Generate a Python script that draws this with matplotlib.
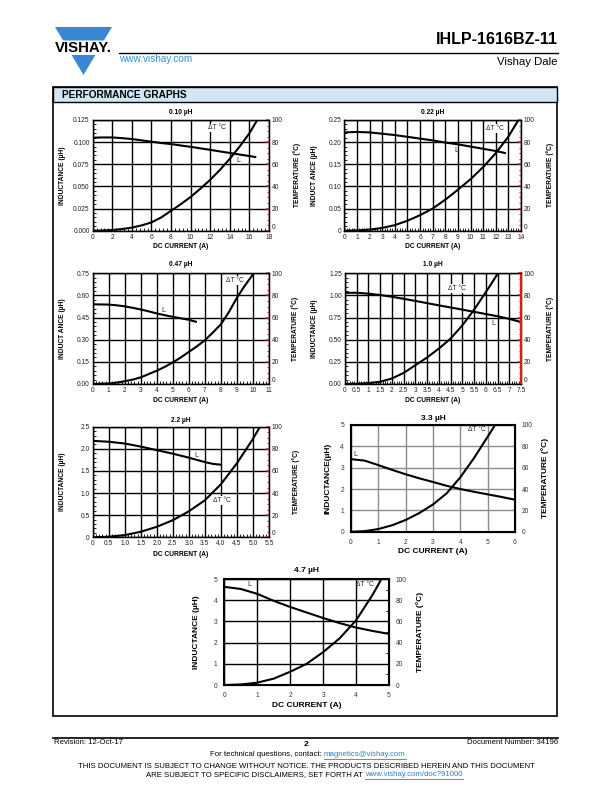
import matplotlib
matplotlib.use("Agg")
import matplotlib.pyplot as plt
from matplotlib import font_manager
from matplotlib.transforms import Affine2D
from matplotlib.patches import Rectangle, Polygon
from matplotlib.lines import Line2D
from matplotlib.ticker import AutoMinorLocator

# ---------------- data ----------------
T_TICKS = [0, 20, 40, 60, 80, 100]
T_LABELS = ["0", "20", "40", "60", "80", "100"]

# 0.10 uH
TITLE_1 = "0.10 µH"
X1_TICKS = [0, 2, 4, 6, 8, 10, 12, 14, 16, 18]
X1_LABELS = ["0", "2", "4", "6", "8", "10", "12", "14", "16", "18"]
Y1_TICKS = [0, 0.025, 0.05, 0.075, 0.1, 0.125]
Y1_LABELS = ["0.000", "0.025", "0.050", "0.075", "0.100", "0.125"]
L1_X = [0, 1, 2, 3, 4, 5, 6, 7, 8, 9, 10, 11, 12, 13, 14, 15, 16, 16.7]
L1_Y = [0.105, 0.1053, 0.1053, 0.1045, 0.1035, 0.102, 0.1005, 0.099, 0.0978, 0.0962,
        0.0947, 0.093, 0.0913, 0.0895, 0.0878, 0.086, 0.0843, 0.083]
T1_X = [0, 1, 2, 3, 4, 5, 6, 7, 8, 9, 10, 11, 12, 13, 14, 15, 16, 16.8]
T1_Y = [0, 0.2, 0.6, 1.5, 2.8, 4.8, 7.5, 12, 18, 24, 30.5, 38, 46, 55, 65, 76, 88, 100]

# 0.22 uH
TITLE_2 = "0.22 µH"
X2_TICKS = list(range(0, 15))
X2_LABELS = [str(v) for v in range(0, 15)]
Y2_TICKS = [0, 0.05, 0.10, 0.15, 0.20, 0.25]
Y2_LABELS = ["0", "0.05", "0.10", "0.15", "0.20", "0.25"]
L2_X = [0, 1, 2, 3, 4, 5, 6, 7, 8, 9, 10, 11, 12, 12.8]
L2_Y = [0.222, 0.223, 0.222, 0.219, 0.216, 0.212, 0.208, 0.204, 0.199, 0.195, 0.190,
        0.185, 0.180, 0.175]
T2_X = [0, 1, 2, 3, 4, 5, 6, 7, 8, 9, 10, 11, 12, 13, 13.8]
T2_Y = [0, 0.3, 1, 2.5, 5, 9, 14, 20, 28, 37, 46.5, 57.5, 70, 85, 100]

# 0.47 uH
TITLE_3 = "0.47 µH"
X3_TICKS = list(range(0, 12))
X3_LABELS = [str(v) for v in range(0, 12)]
Y3_TICKS = [0, 0.15, 0.30, 0.45, 0.60, 0.75]
Y3_LABELS = ["0.00", "0.15", "0.30", "0.45", "0.60", "0.75"]
L3_X = [0, 1, 1.5, 2, 2.5, 3, 3.5, 4, 4.5, 5, 5.5, 6, 6.5]
L3_Y = [0.540, 0.538, 0.533, 0.526, 0.516, 0.505, 0.492, 0.478, 0.466, 0.455, 0.445,
        0.435, 0.420]
T3_X = [0, 1, 1.5, 2, 2.5, 3, 3.5, 4, 4.5, 5, 5.5, 6, 6.5, 7, 7.5, 8, 8.5, 9, 9.5, 10.05]
T3_Y = [0, 0.5, 1.3, 2.5, 4, 6, 9, 12, 15.5, 19.5, 24, 29, 34, 39.5, 46.5, 54, 65, 78,
        89, 100]

# 1.0 uH
TITLE_4 = "1.0 µH"
X4_TICKS = [0, 0.5, 1, 1.5, 2, 2.5, 3, 3.5, 4, 4.5, 5, 5.5, 6, 6.5, 7, 7.5]
X4_LABELS = ["0", "0.5", "1", "1.5", "2", "2.5", "3", "3.5", "4", "4.5", "5", "5.5",
             "6", "6.5", "7", "7.5"]
Y4_TICKS = [0, 0.25, 0.50, 0.75, 1.00, 1.25]
Y4_LABELS = ["0.00", "0.25", "0.50", "0.75", "1.00", "1.25"]
L4_X = [0, 0.5, 1, 1.5, 2, 2.5, 3, 3.5, 4, 4.5, 5, 5.5, 6, 6.5, 7, 7.5]
L4_Y = [1.03, 1.03, 1.02, 1.005, 0.985, 0.962, 0.938, 0.913, 0.888, 0.864, 0.84, 0.815,
        0.79, 0.765, 0.735, 0.70]
T4_X = [0, 0.5, 1, 1.5, 2, 2.5, 3, 3.5, 4, 4.5, 5, 5.5, 6, 6.25, 6.5]
T4_Y = [0, 0.2, 0.8, 2, 5, 10, 17, 24, 32, 41, 53, 67, 83, 91, 99.5]

# 2.2 uH
TITLE_5 = "2.2 µH"
X5_TICKS = [0, 0.5, 1, 1.5, 2, 2.5, 3, 3.5, 4, 4.5, 5, 5.5]
X5_LABELS = ["0", "0.5", "1.0", "1.5", "2.0", "2.5", "3.0", "3.5", "4.0", "4.5", "5.0",
             "5.5"]
Y5_TICKS = [0, 0.5, 1.0, 1.5, 2.0, 2.5]
Y5_LABELS = ["0", "0.5", "1.0", "1.5", "2.0", "2.5"]
L5_X = [0, 0.5, 1, 1.5, 2, 2.5, 3, 3.5, 3.75, 4]
L5_Y = [2.18, 2.16, 2.12, 2.05, 1.97, 1.89, 1.80, 1.70, 1.66, 1.64]
T5_X = [0, 0.5, 1, 1.5, 2, 2.5, 3, 3.5, 4, 4.5, 5, 5.22]
T5_Y = [0, 0.5, 2, 5, 9.5, 15.5, 23.5, 33.5, 48, 67, 89, 100]

# 3.3 uH
TITLE_6 = "3.3 µH"
X6_TICKS = [0, 1, 2, 3, 4, 5, 6]
X6_LABELS = ["0", "1", "2", "3", "4", "5", "6"]
Y6_TICKS = [0, 1, 2, 3, 4, 5]
Y6_LABELS = ["0", "1", "2", "3", "4", "5"]
L6_X = [0, 0.5, 1, 1.5, 2, 2.5, 3, 3.5, 4, 4.5, 5, 5.5, 6]
L6_Y = [3.4, 3.33, 3.12, 2.9, 2.69, 2.5, 2.33, 2.15, 2.0, 1.87, 1.75, 1.63, 1.5]
T6_X = [0, 0.5, 1, 1.5, 2, 2.5, 3, 3.5, 4, 4.5, 5, 5.27]
T6_Y = [0, 0.5, 2.5, 6, 11, 17.5, 25.5, 36, 51, 69, 89, 100]

# 4.7 uH
TITLE_7 = "4.7 µH"
X7_TICKS = [0, 1, 2, 3, 4, 5]
X7_LABELS = ["0", "1", "2", "3", "4", "5"]
Y7_TICKS = [0, 1, 2, 3, 4, 5]
Y7_LABELS = ["0", "1", "2", "3", "4", "5"]
L7_X = [0, 0.5, 1, 1.5, 2, 2.5, 3, 3.5, 4, 4.5, 5]
L7_Y = [4.63, 4.53, 4.3, 3.97, 3.68, 3.42, 3.16, 2.92, 2.71, 2.55, 2.41]
T7_X = [0, 0.5, 1, 1.5, 2, 2.5, 3, 3.5, 4, 4.5, 4.77]
T7_Y = [0, 0.5, 2.2, 6, 12.5, 20, 31, 44, 61, 85, 100]

# ---------------- fonts ----------------
_names = {f.name for f in font_manager.fontManager.ttflist}
SANS = "Liberation Sans" if "Liberation Sans" in _names else "DejaVu Sans"
HAS_NARROW = "Liberation Sans Narrow" in _names
NARROW = "Liberation Sans Narrow" if HAS_NARROW else SANS
plt.rcParams["font.family"] = [SANS, "DejaVu Sans"]
LAB_FS_A = 5.6 if HAS_NARROW else 4.8

W, H = 612, 792
fig = plt.figure(figsize=(W / 100, H / 100), dpi=100)
PIX = Affine2D().scale(1.0 / W, -1.0 / H).translate(0, 1) + fig.transFigure


def ftext(x, y, s, **kw):
    return fig.text(x, y, s, transform=PIX, **kw)


def add_axes_px(x0, y0, x1, y1):
    return fig.add_axes([x0 / W, 1 - y1 / H, (x1 - x0) / W, (y1 - y0) / H])


CHARTS = [
    dict(title=TITLE_1, box=(92.7, 120, 269, 230.7), xt=X1_TICKS, xl=X1_LABELS, yt=Y1_TICKS,
         yl=Y1_LABELS, L=(L1_X, L1_Y), T=(T1_X, T1_Y), style="a", labx=(63, 297),
         title_y=112.7, xlab_y=246, dT=(12.7, 0.116), Lp=(14.9, 0.0798),
         ylab="INDUCTANCE (µH)", ylab2="TEMPERATURE (°C)"),
    dict(title=TITLE_2, box=(344.3, 120, 521, 230.7), xt=X2_TICKS, xl=X2_LABELS, yt=Y2_TICKS,
         yl=Y2_LABELS, L=(L2_X, L2_Y), T=(T2_X, T2_Y), style="a", labx=(314, 550),
         title_y=112.7, xlab_y=246.7, dT=(11.9, 0.231), Lp=(8.9, 0.18),
         ylab="INDUCT ANCE (µH)", ylab2="TEMPERATURE (°C)"),
    dict(title=TITLE_3, box=(92.7, 273.3, 269, 384), xt=X3_TICKS, xl=X3_LABELS, yt=Y3_TICKS,
         yl=Y3_LABELS, L=(L3_X, L3_Y), T=(T3_X, T3_Y), style="a", labx=(63, 295),
         title_y=265, xlab_y=400.7, dT=(8.9, 0.70), Lp=(4.4, 0.495),
         ylab="INDUCT ANCE (µH)", ylab2="TEMPERATURE (°C)"),
    dict(title=TITLE_4, box=(345, 273.3, 521, 384), xt=X4_TICKS, xl=X4_LABELS, yt=Y4_TICKS,
         yl=Y4_LABELS, L=(L4_X, L4_Y), T=(T4_X, T4_Y), style="a", labx=(315, 550),
         title_y=265, xlab_y=400.7, dT=(4.76, 1.08), Lp=(6.32, 0.685),
         ylab="INDUCTANCE (µH)", ylab2="TEMPERATURE (°C)", red_spine=True),
    dict(title=TITLE_5, box=(92.7, 426.7, 269, 537.3), xt=X5_TICKS, xl=X5_LABELS, yt=Y5_TICKS,
         yl=Y5_LABELS, L=(L5_X, L5_Y), T=(T5_X, T5_Y), style="a", labx=(63, 296),
         title_y=420, xlab_y=554, dT=(4.02, 0.83), Lp=(3.24, 1.84),
         ylab="INDUCTANCE (µH)", ylab2="TEMPERATURE (°C)"),
    dict(title=TITLE_6, box=(351, 425, 515, 531.7), xt=X6_TICKS, xl=X6_LABELS, yt=Y6_TICKS,
         yl=Y6_LABELS, L=(L6_X, L6_Y), T=(T6_X, T6_Y), style="b", labx=(328, 545),
         title_y=419, xlab_y=551.7, dT=(4.6, 4.81), Lp=(0.15, 3.6),
         ylab="INDUCTANCE(µH)", ylab2="TEMPERATURE (°C)", gridc="#8c8c8c"),
    dict(title=TITLE_7, box=(224.3, 579, 389, 685), xt=X7_TICKS, xl=X7_LABELS, yt=Y7_TICKS,
         yl=Y7_LABELS, L=(L7_X, L7_Y), T=(T7_X, T7_Y), style="b", labx=(196, 420),
         title_y=571, xlab_y=705.7, dT=(4.27, 4.76), Lp=(0.76, 4.76),
         ylab="INDUCTANCE (µH)", ylab2="TEMPERATURE (°C)", gridc="black", rminor=True),
]

# ---------------- page furniture ----------------
LOGO_BLUE = "#3a88d3"
fig.add_artist(Polygon([(55, 27), (112, 27), (103.9, 40.5), (63.1, 40.5)], closed=True,
                       transform=PIX, facecolor=LOGO_BLUE, edgecolor="none"))
fig.add_artist(Polygon([(71.6, 55), (95.4, 55), (83.5, 75)], closed=True,
                       transform=PIX, facecolor=LOGO_BLUE, edgecolor="none"))
ftext(83, 48, "VISHAY.", ha="center", va="center", fontsize=10.8, weight="bold")
fig.add_artist(Line2D([119, 558], [52.5, 52.5], transform=PIX, color="black", lw=1.0))
ftext(119, 58.5, "www.vishay.com", ha="left", va="center", fontsize=7.2, color="#3a8fd4")
ftext(557.5, 40, "IHLP-1616BZ-11", ha="right", va="center", fontsize=11.5, weight="bold")
ftext(557.5, 62, "Vishay Dale", ha="right", va="center", fontsize=8.2)

fig.add_artist(Rectangle((53, 87), 504, 629, transform=PIX, fill=False, edgecolor="black",
                         lw=1.2))
fig.add_artist(Rectangle((53, 87), 504, 14.5, transform=PIX, facecolor="#d2e5f3",
                         edgecolor="black", lw=1.0))
ftext(62, 94.5, "PERFORMANCE GRAPHS", ha="left", va="center", fontsize=7.3, weight="bold")

# ---------------- charts ----------------
for c in CHARTS:
    x0, y0, x1, y1 = c["box"]
    ax = add_axes_px(x0, y0, x1, y1)
    tw = ax.twinx()
    ax.set_xlim(c["xt"][0], c["xt"][-1])
    ax.set_ylim(c["yt"][0], c["yt"][-1])
    tw.set_ylim(T_TICKS[0], T_TICKS[-1])
    ax.set_xticks(c["xt"], c["xl"])
    ax.set_yticks(c["yt"], c["yl"])
    tw.set_yticks(T_TICKS, T_LABELS)
    ax.plot(c["L"][0], c["L"][1], color="black", lw=1.5, zorder=3, solid_capstyle="butt")
    tw.plot(c["T"][0], c["T"][1], color="black", lw=1.5, zorder=3, solid_capstyle="butt")
    cx = (x0 + x1) / 2
    cy = (y0 + y1) / 2
    if c["style"] == "a":
        ax.grid(True, which="major", color="black", lw=1.0)
        for sp in ax.spines.values():
            sp.set_linewidth(1.0)
        ax.tick_params(which="major", length=0, pad=2.2, labelsize=4.8, labelcolor="#222")
        ax.xaxis.set_minor_locator(AutoMinorLocator(5))
        ax.yaxis.set_minor_locator(AutoMinorLocator(5))
        ax.tick_params(which="minor", direction="in", length=2, width=0.6, color="black")
        tw.yaxis.set_minor_locator(AutoMinorLocator(4))
        tw.tick_params(axis="y", which="major", direction="in", length=2.5, width=1.1,
                       color="#d42020", pad=2, labelsize=4.8, labelcolor="#222")
        tw.tick_params(axis="y", which="minor", direction="in", length=1.5, width=0.8,
                       color="#d42020")
        # raise the bottom "0" label so it clears the last x tick label
        tw.get_yticklabels()[0].set_verticalalignment("bottom")
        if c.get("red_spine"):
            tw.spines["right"].set_color("#e01818")
            tw.spines["right"].set_linewidth(1.6)
        bb = dict(facecolor="white", edgecolor="none", pad=0.6)
        ax.text(c["dT"][0], c["dT"][1], "ΔT °C", ha="center", va="center", fontsize=4.8,
                color="#222", bbox=bb, zorder=4)
        ax.text(c["Lp"][0], c["Lp"][1], "L", ha="center", va="center", fontsize=5,
                color="#222", zorder=4)
        lab = dict(fontsize=LAB_FS_A, weight="bold", family=[NARROW, "DejaVu Sans"])
        ftext(cx, c["title_y"], c["title"], ha="center", va="center", **lab)
        ftext(cx, c["xlab_y"], "DC CURRENT (A)", ha="center", va="center", **lab)
        ftext(c["labx"][0], cy, c["ylab"], ha="center", va="center", rotation=90, **lab)
        ftext(c["labx"][1], cy, c["ylab2"], ha="center", va="center", rotation=90, **lab)
    else:
        ax.grid(True, which="major", color=c["gridc"], lw=1.0)
        for sp in ax.spines.values():
            sp.set_linewidth(1.5)
        ax.tick_params(which="major", length=0, pad=5, labelsize=4.8, labelcolor="#333")
        tw.tick_params(axis="y", which="major", length=0, pad=5, labelsize=4.8,
                       labelcolor="#333")
        if c.get("rminor"):
            tw.yaxis.set_minor_locator(AutoMinorLocator(2))
            tw.tick_params(axis="y", which="minor", direction="in", length=2, width=0.7)
        ax.text(c["dT"][0], c["dT"][1], "ΔT °C", ha="center", va="center", fontsize=4.8,
                color="#222", zorder=4)
        ax.text(c["Lp"][0], c["Lp"][1], "L", ha="center", va="center", fontsize=5,
                color="#222", zorder=4)
        lab = dict(fontsize=6, weight="bold")
        ftext(cx, c["title_y"], c["title"], ha="center", va="center", **lab)
        ftext(cx, c["xlab_y"], "DC CURRENT (A)", ha="center", va="center", **lab)
        ftext(c["labx"][0], cy, c["ylab"], ha="center", va="center", rotation=90, **lab)
        ftext(c["labx"][1], cy, c["ylab2"], ha="center", va="center", rotation=90, **lab)

# ---------------- footer ----------------
fig.add_artist(Line2D([53, 558], [737.5, 737.5], transform=PIX, color="black", lw=1.2))
FS = 5.6
LINK = "#2f7fc8"
ftext(54, 743, "Revision: 12-Oct-17", ha="left", va="center", fontsize=FS)
ftext(306, 744.5, "2", ha="center", va="center", fontsize=6, weight="bold")
ftext(558, 743, "Document Number: 34196", ha="right", va="center", fontsize=FS)
ftext(322, 755, "For technical questions, contact:", ha="right", va="center", fontsize=FS)
link1 = ftext(324, 755, "magnetics@vishay.com", ha="left", va="center", fontsize=FS,
              color=LINK)
ftext(306, 766, "THIS DOCUMENT IS SUBJECT TO CHANGE WITHOUT NOTICE. THE PRODUCTS DESCRIBED "
      "HEREIN AND THIS DOCUMENT", ha="center", va="center", fontsize=FS)
ftext(363, 775, "ARE SUBJECT TO SPECIFIC DISCLAIMERS, SET FORTH AT", ha="right",
      va="center", fontsize=FS)
link2 = ftext(365, 775, "www.vishay.com/doc?91000", ha="left", va="center", fontsize=FS,
              color=LINK)

renderer = fig.canvas.get_renderer()
for t in (link1, link2):
    bb = t.get_window_extent(renderer)
    inv = fig.transFigure.inverted()
    (fx0, fy0), (fx1, fy1) = inv.transform([(bb.x0, bb.y0), (bb.x1, bb.y1)])
    fig.add_artist(Line2D([fx0, fx1], [fy0 - 0.0005, fy0 - 0.0005],
                          transform=fig.transFigure, color=LINK, lw=0.6))

fig.savefig("out.png", dpi=100)
